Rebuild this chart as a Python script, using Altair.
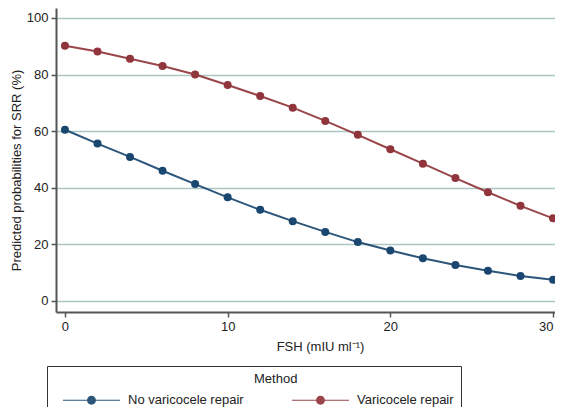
import altair as alt
import pandas as pd

fsh = [0, 2, 4, 6, 8, 10, 12, 14, 16, 18, 20, 22, 24, 26, 28, 30]
no_repair = [60.5, 55.6, 50.9, 46.0, 41.3, 36.6, 32.2, 28.2, 24.4, 20.8, 17.8, 15.1, 12.7, 10.7, 8.8, 7.5]
repair = [90.2, 88.1, 85.6, 83.0, 80.0, 76.3, 72.4, 68.3, 63.6, 58.7, 53.6, 48.5, 43.4, 38.4, 33.6, 29.2]
methods = ["No varicocele repair", "Varicocele repair"]
marker_colors = ["#1a476f", "#90353b"]
y_ticks = [0, 20, 40, 60, 80, 100]
x_ticks = [0, 10, 20, 30]

df = pd.DataFrame({
    "FSH": fsh * 2,
    "SRR": no_repair + repair,
    "Method": [methods[0]] * len(fsh) + [methods[1]] * len(fsh),
})

FONT = "Liberation Sans, Arial, Helvetica, sans-serif"
TXT = "#222222"

x = alt.X(
    "FSH:Q",
    scale=alt.Scale(domain=[-0.55, 30.12], nice=False, zero=False),
    axis=alt.Axis(
        values=x_ticks, title="FSH (mIU ml\u207b\u00b9)", grid=False,
        domainColor="#555555", domainWidth=2, tickColor="#555555", tickWidth=1.5,
        tickSize=5, labelFontSize=13, labelPadding=3, labelColor=TXT, labelFlush=5,
        titleFontSize=13, titleFontWeight="normal", titleColor=TXT,
        titleX=264, titleY=34, titleAlign="center", titleBaseline="middle",
        labelFont=FONT, titleFont=FONT,
    ),
)
y = alt.Y(
    "SRR:Q",
    scale=alt.Scale(domain=[-3.9, 103.5], nice=False, zero=False),
    axis=alt.Axis(
        values=y_ticks, title="Predicted probabilities for SRR (%)", grid=True,
        gridColor="#aac5c2", gridWidth=1.3,
        domainColor="#555555", domainWidth=2, tickColor="#555555", tickWidth=1.5,
        tickSize=5, labelFontSize=13, labelPadding=3, labelColor=TXT,
        titleFontSize=13, titleFontWeight="normal", titleColor=TXT,
        titleX=-40, titleY=162, titleAlign="center", titleBaseline="middle", titleAngle=270,
        labelFont=FONT, titleFont=FONT,
    ),
)

PATH = "M-3,-0.065H3V0.065H-3Z M0.47,0A0.47,0.47,0,1,1,-0.47,0A0.47,0.47,0,1,1,0.47,0Z"

legend = alt.Legend(
    title="Method", orient="none", legendX=-9, legendY=358,
    direction="horizontal", strokeColor="#333333", padding=7,
    titleAnchor="middle", titleAlign="left", titleFontSize=13, titleFontWeight="normal",
    titleColor=TXT, titlePadding=4.5, titleFont=FONT,
    labelFontSize=13, labelColor=TXT, labelFont=FONT,
    symbolType=PATH, symbolSize=361, symbolOffset=28, labelOffset=27,
    columnPadding=39, symbolStrokeWidth=0,
    labelExpr="datum.label == 'Varicocele repair' ? pad(datum.label, 35, '\u00a0') : datum.label",
)
color = alt.Color("Method:N", scale=alt.Scale(domain=methods, range=marker_colors), legend=legend)

lines = alt.Chart(df).mark_line(strokeWidth=2, opacity=0.92).encode(x=x, y=y, color=color)
points = alt.Chart(df).mark_circle(size=64, opacity=1).encode(x=x, y=y, color=color)

chart = alt.layer(lines, points).properties(
    width=499, height=304,
    autosize=alt.AutoSizeParams(type="none"),
    padding={"left": 48, "top": 0, "right": 0, "bottom": 95},
    background="white",
).configure_view(stroke=None)

chart.save("out.html", embed_options={"renderer": "svg", "actions": False})
